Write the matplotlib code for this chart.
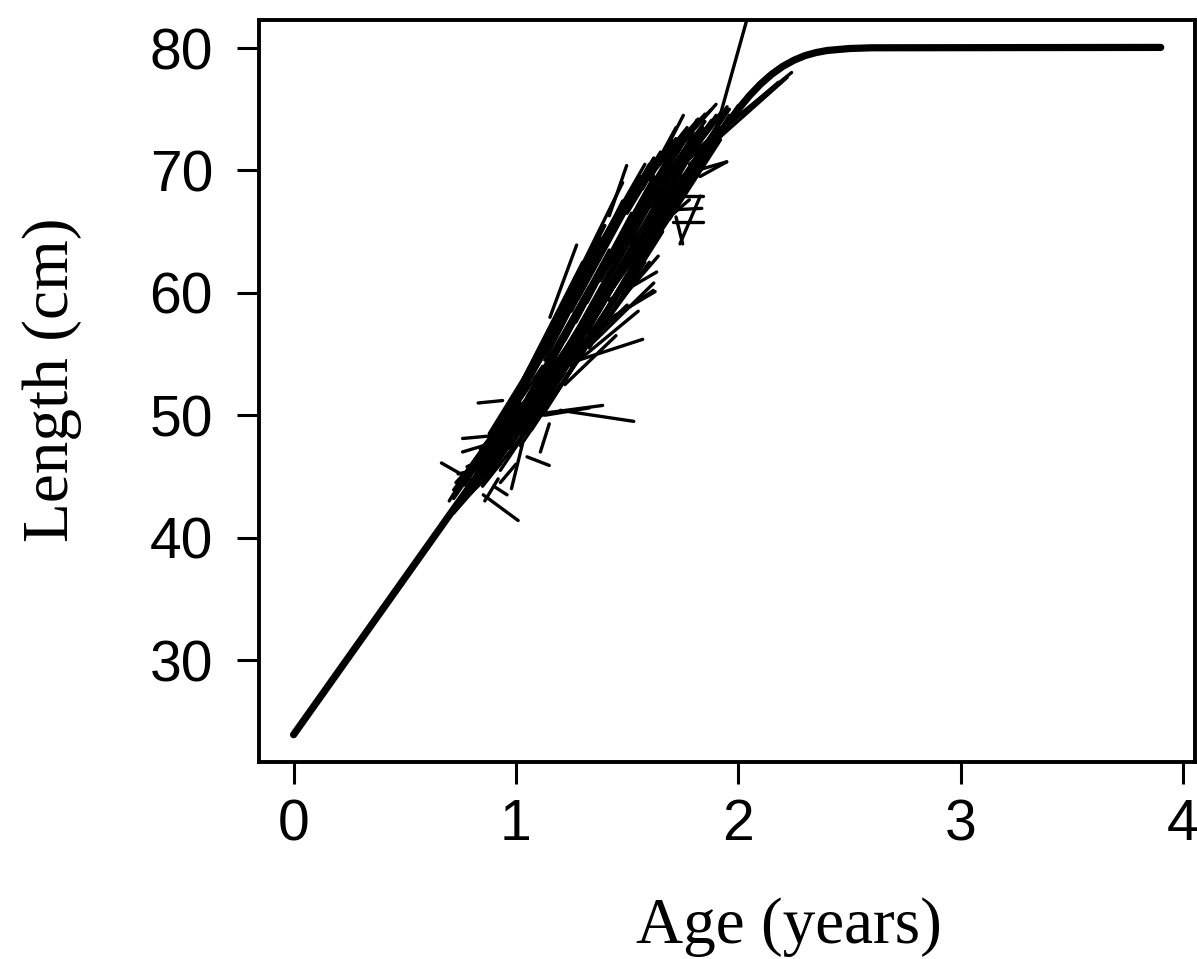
import matplotlib.pyplot as plt

# fitted growth curve (age in years, length in cm)
curve_age = [0.0, 1.0, 1.9, 1.95, 2.0, 2.05, 2.1, 2.15, 2.2, 2.25, 2.3, 2.35, 2.4, 2.5, 2.6, 3.9]
curve_len = [23.9, 49.5, 72.5, 73.8, 75.0, 76.1, 77.05, 77.85, 78.5, 79.0, 79.38, 79.63, 79.8, 79.96, 80.02, 80.05]

# tag-recapture increments: (age at tagging, length at tagging) -> (age at recapture, length at recapture)
age1 = [0.70, 0.72, 0.74, 0.75, 0.77, 0.78, 0.80, 0.80, 0.82, 0.83,
        0.85, 0.85, 0.87, 0.88, 0.90, 0.90, 0.92, 0.93, 0.95, 0.95,
        0.97, 0.98, 1.00, 1.00, 1.02, 1.03, 1.05, 1.05, 1.07, 1.08,
        1.10, 1.10, 1.12, 1.13, 1.15, 1.15, 1.17, 1.18, 1.20, 1.20,
        1.22, 1.23, 1.25, 1.25, 1.27, 1.28, 1.30, 1.30, 1.32, 1.33,
        1.35, 1.35, 1.37, 1.38, 1.40, 1.40, 1.42, 1.43, 1.45, 1.45,
        1.47, 1.48, 1.50, 1.50, 1.52, 1.55, 1.55, 1.57, 1.60, 1.60,
        1.62, 1.65, 1.65, 1.68, 1.70, 1.72, 1.75, 1.78, 1.80,
        0.76, 0.76, 0.83, 0.665, 0.853, 0.98, 1.11, 1.05, 1.13, 1.14,
        1.20, 1.18, 1.31, 1.416, 1.153, 1.42, 1.603, 1.693, 1.738, 1.708,
        1.723, 1.708, 1.813, 1.88, 1.75, 1.78, 1.72, 1.71, 1.72, 1.768,
        1.828, 1.378,
        0.68, 0.70, 0.72, 0.73, 0.75, 0.78, 0.79, 0.81, 0.84, 0.86,
        0.88, 0.89, 0.91, 0.93, 0.94, 0.96, 0.97, 0.99, 1.01, 1.02,
        1.04, 1.06, 1.08, 1.09, 1.11, 1.12, 1.14, 1.16, 1.18, 1.19,
        1.21, 1.24, 1.26, 1.27, 1.29, 1.31, 1.33, 1.34, 1.36, 1.39,
        1.41, 1.44, 1.46, 1.49, 1.51, 1.53, 1.56, 1.58, 1.61, 1.63,
        1.66, 1.69, 1.73, 1.76, 1.82, 1.67, 1.57, 1.47, 1.06, 0.95]
len1 = [42.0, 43.5, 42.8, 44.5, 43.2, 45.5, 44.0, 46.0, 44.5, 45.8,
        46.8, 44.2, 47.5, 45.2, 48.0, 46.0, 48.8, 45.5, 47.5, 49.8,
        46.8, 50.5, 48.5, 51.0, 47.5, 52.0, 49.5, 51.5, 48.8, 53.5,
        50.5, 52.8, 50.0, 54.5, 52.0, 55.5, 51.5, 56.5, 53.5, 57.5,
        52.8, 55.0, 58.5, 54.0, 56.5, 59.5, 55.0, 61.0, 57.5, 60.0,
        56.5, 62.5, 58.5, 61.0, 58.0, 64.0, 60.0, 62.5, 59.5, 65.5,
        61.5, 63.5, 62.0, 66.5, 64.0, 62.8, 67.0, 65.0, 64.0, 68.0,
        66.0, 65.5, 69.0, 67.0, 66.5, 69.5, 68.0, 70.0, 69.5,
        48.1, 47.0, 51.0, 46.1, 43.5, 44.0, 47.0, 46.6, 50.0, 50.2,
        50.4, 53.9, 56.7, 59.4, 58.0, 66.3, 69.2, 71.1, 64.0, 65.8,
        66.8, 67.9, 70.0, 72.0, 70.8, 70.5, 70.0, 66.5, 66.2, 71.9,
        69.5, 57.2,
        41.5, 43.0, 42.0, 44.5, 43.0, 44.8, 43.5, 45.5, 47.2, 45.0,
        48.5, 46.5, 47.0, 49.5, 47.8, 50.5, 48.2, 51.5, 49.5, 52.5,
        48.5, 53.0, 50.5, 54.5, 51.5, 55.0, 53.0, 56.0, 52.5, 58.0,
        54.5, 57.0, 55.5, 60.0, 57.5, 61.5, 55.5, 59.0, 63.5, 60.5,
        57.8, 61.0, 64.0, 60.5, 65.5, 62.5, 66.0, 63.5, 67.0, 64.5,
        68.0, 66.0, 67.5, 69.5, 70.5, 70.0, 68.5, 66.5, 53.5, 50.0]
age2 = [0.85, 0.90, 1.00, 0.92, 1.05, 0.95, 1.10, 1.00, 0.98, 1.15,
        1.05, 1.08, 1.10, 1.20, 1.12, 1.25, 1.18, 1.15, 1.30, 1.20,
        1.22, 1.25, 1.35, 1.28, 1.30, 1.30, 1.40, 1.33, 1.38, 1.35,
        1.45, 1.42, 1.40, 1.40, 1.50, 1.45, 1.45, 1.42, 1.55, 1.50,
        1.50, 1.60, 1.52, 1.55, 1.58, 1.55, 1.62, 1.56, 1.65, 1.62,
        1.60, 1.60, 1.70, 1.68, 1.72, 1.62, 1.75, 1.70, 1.68, 1.65,
        1.78, 1.72, 1.80, 1.70, 1.82, 1.85, 1.75, 1.83, 1.88, 1.80,
        1.90, 1.88, 1.85, 1.92, 1.90, 1.90, 1.95, 1.95, 1.98,
        0.88, 0.87, 0.94, 0.81, 1.01, 1.03, 1.15, 1.15, 1.33, 1.39,
        1.53, 1.57, 1.626, 1.633, 1.273, 1.498, 1.753, 1.82, 1.829, 1.843,
        1.836, 1.843, 1.948, 2.06, 2.24, 2.22, 2.18, 1.78, 1.75, 1.813,
        1.948, 1.618,
        0.80, 0.82, 0.84, 0.86, 0.95, 1.02, 0.93, 1.06, 0.97, 1.12,
        1.05, 1.02, 1.18, 1.10, 1.08, 1.16, 1.28, 1.18, 1.26, 1.22,
        1.20, 1.28, 1.36, 1.30, 1.34, 1.38, 1.44, 1.38, 1.40, 1.40,
        1.48, 1.52, 1.48, 1.48, 1.58, 1.52, 1.58, 1.64, 1.58, 1.62,
        1.66, 1.74, 1.70, 1.76, 1.74, 1.80, 1.80, 1.84, 1.84, 1.86,
        1.88, 1.92, 1.94, 1.96, 2.00, 1.82, 1.72, 1.62, 1.48, 1.30]
len2 = [45.5, 47.5, 49.0, 48.8, 50.5, 49.5, 52.0, 51.0, 48.0, 54.0,
        52.5, 49.5, 54.5, 53.5, 54.0, 55.5, 56.5, 51.5, 57.5, 57.5,
        53.5, 59.5, 58.5, 60.0, 55.0, 61.5, 60.0, 60.5, 57.5, 62.5,
        61.5, 63.5, 58.0, 64.0, 63.0, 66.0, 59.5, 65.0, 64.5, 67.5,
        61.5, 67.0, 68.0, 63.0, 66.5, 68.5, 65.0, 69.5, 68.0, 69.5,
        64.0, 70.5, 69.0, 70.5, 67.5, 71.0, 70.5, 71.5, 66.0, 71.5,
        71.0, 72.0, 70.5, 72.5, 72.5, 71.0, 73.0, 72.8, 71.5, 73.5,
        73.5, 72.0, 74.0, 74.0, 72.5, 74.5, 74.0, 75.0, 74.5,
        48.3, 47.6, 51.2, 44.6, 41.4, 47.7, 49.3, 45.9, 50.6, 50.8,
        49.5, 56.2, 60.1, 61.7, 63.9, 70.4, 74.5, 74.1, 67.9, 65.8,
        66.9, 67.9, 70.7, 83.7, 78.0, 77.6, 77.2, 67.6, 64.0, 74.1,
        70.7, 60.2,
        44.5, 46.5, 44.5, 47.0, 47.0, 51.5, 46.0, 53.0, 50.0, 51.0,
        53.5, 49.0, 54.5, 55.0, 50.5, 57.0, 56.5, 58.0, 56.5, 59.5,
        52.5, 61.0, 59.0, 62.0, 58.5, 64.5, 62.0, 64.0, 58.5, 65.5,
        63.5, 66.5, 62.0, 67.5, 67.0, 68.5, 62.5, 68.5, 70.5, 68.0,
        65.0, 70.0, 71.5, 68.0, 72.5, 70.5, 73.0, 70.5, 73.5, 71.0,
        74.0, 72.5, 73.5, 75.0, 75.3, 74.0, 73.5, 71.0, 69.0, 62.5]

# more increments from the dense part of the band
age1_b = [0.72, 0.72, 0.72, 0.77, 0.77, 0.77, 0.82, 0.82, 0.82, 0.87, 0.87, 0.87,
          0.92, 0.92, 0.92, 0.97, 0.97, 0.97, 1.02, 1.02, 1.02, 1.07, 1.07, 1.07,
          1.12, 1.12, 1.12, 1.17, 1.17, 1.17, 1.22, 1.22, 1.22, 1.27, 1.27, 1.27,
          1.32, 1.32, 1.32, 1.37, 1.37, 1.37, 1.42, 1.42, 1.42, 1.47, 1.47, 1.47,
          1.52, 1.52, 1.52, 1.57, 1.57, 1.57, 1.62, 1.62, 1.62, 1.67, 1.67, 1.67,
          1.72, 1.72, 1.72, 1.77, 1.77, 1.77,
          0.78, 0.74, 0.86, 0.90, 0.93,
          1.25, 1.35, 1.40, 1.22, 1.30, 1.45]
len1_b = [42.5, 43.2, 43.9, 43.5, 44.3, 45.1, 44.2, 45.2, 46.3, 45.1, 46.3, 47.5,
          46.2, 47.4, 48.7, 47.3, 48.7, 50.1, 48.5, 50.0, 51.5, 49.8, 51.5, 53.1,
          51.2, 53.0, 54.8, 52.5, 54.5, 56.5, 53.9, 56.1, 58.3, 55.3, 57.6, 60.0,
          56.7, 59.2, 61.7, 58.3, 60.9, 63.4, 59.9, 62.5, 65.1, 61.6, 64.1, 66.6,
          63.1, 65.5, 67.8, 64.2, 66.6, 68.9, 65.5, 67.7, 69.9, 66.7, 68.9, 71.0,
          67.9, 69.9, 72.0, 69.0, 70.9, 72.7,
          45.8, 45.2, 43.0, 44.2, 44.5,
          54.0, 56.0, 57.5, 52.5, 55.5, 59.0]
age2_b = [0.90, 0.95, 0.88, 0.97, 0.99, 0.93, 1.04, 1.02, 1.00, 1.07, 1.10, 1.04,
          1.14, 1.12, 1.10, 1.20, 1.19, 1.16, 1.25, 1.24, 1.22, 1.30, 1.29, 1.27,
          1.35, 1.34, 1.32, 1.40, 1.39, 1.37, 1.45, 1.44, 1.42, 1.50, 1.49, 1.47,
          1.55, 1.54, 1.52, 1.60, 1.59, 1.57, 1.65, 1.64, 1.62, 1.70, 1.69, 1.67,
          1.75, 1.74, 1.72, 1.80, 1.79, 1.77, 1.84, 1.84, 1.82, 1.88, 1.88, 1.85,
          1.92, 1.92, 1.88, 1.96, 1.95, 1.90,
          0.88, 0.83, 0.92, 0.96, 1.00,
          1.55, 1.62, 1.60, 1.45, 1.50, 1.64]
len2_b = [46.8, 49.2, 48.0, 48.0, 50.5, 49.5, 49.5, 51.0, 51.5, 50.5, 52.8, 52.5,
          51.8, 53.5, 54.5, 53.5, 55.3, 56.5, 54.8, 57.0, 58.2, 56.2, 58.5, 60.0,
          57.8, 60.2, 61.8, 59.2, 61.8, 63.6, 60.8, 63.5, 65.3, 62.5, 65.2, 66.8,
          64.0, 66.8, 68.2, 65.5, 68.2, 69.4, 66.9, 69.6, 70.5, 68.3, 70.8, 71.5,
          69.6, 71.8, 72.6, 70.8, 72.6, 73.5, 71.8, 73.4, 74.2, 72.6, 74.1, 74.6,
          73.5, 74.7, 75.0, 74.5, 75.2, 75.4,
          46.6, 45.6, 44.8, 43.5, 46.0,
          58.5, 60.8, 62.5, 56.5, 59.0, 63.0]

fig = plt.figure(figsize=(11.97, 9.59), dpi=100)
ax = fig.add_axes([258.9 / 1197, 1 - 762 / 959, (1195.4 - 258.9) / 1197, (762 - 20) / 959])

for i in range(len(age1)):
    ax.plot([age1[i], age2[i]], [len1[i], len2[i]], color='black', lw=2.4,
            solid_capstyle='round')
for i in range(len(age1_b)):
    ax.plot([age1_b[i], age2_b[i]], [len1_b[i], len2_b[i]], color='black', lw=2.4,
            solid_capstyle='round')

ax.plot(curve_age, curve_len, color='black', lw=5.2, solid_capstyle='round',
        solid_joinstyle='round')

ax.set_xlim(-0.156, 4.056)
ax.set_ylim(21.67, 82.29)
ax.set_xticks([0, 1, 2, 3, 4])
ax.set_yticks([30, 40, 50, 60, 70, 80])

for s in ax.spines.values():
    s.set_linewidth(2.8)

ax.tick_params(axis='both', length=16, width=2.2, labelsize=41)
ax.tick_params(axis='x', pad=10)
ax.tick_params(axis='y', pad=17)
for lab in ax.get_xticklabels() + ax.get_yticklabels():
    lab.set_fontfamily('Liberation Sans')

fig.text(789 / 1197, 1 - 943 / 959, 'Age (years)', family='Liberation Serif',
         fontsize=47, ha='center', va='baseline')
fig.text(52 / 1197, 1 - 380 / 959, 'Length (cm)', family='Liberation Serif',
         fontsize=47, ha='center', va='center', rotation=90)

fig.savefig('out.png', dpi=100)
